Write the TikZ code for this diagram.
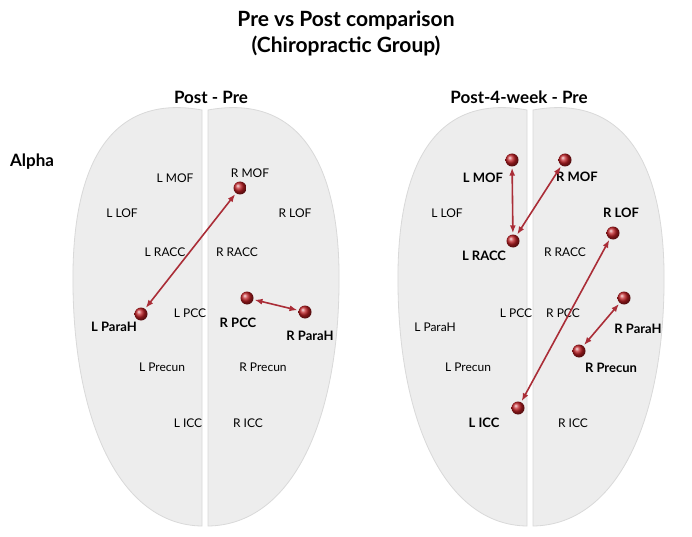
\documentclass[tikz,border=0pt]{standalone}
\usepackage{fontspec}
\setmainfont{Lato}
\usetikzlibrary{arrows.meta}
\definecolor{arr}{RGB}{170,45,55}
\definecolor{ball}{RGB}{190,30,35}
\tikzset{
 lab/.style={font=\fontsize{12}{13}\selectfont, inner sep=0},
 blab/.style={font=\fontsize{13}{14}\selectfont\bfseries, inner sep=0},
 ttl/.style={font=\fontsize{21}{23}\selectfont\bfseries, inner sep=0},
 sub/.style={font=\fontsize{17}{19}\selectfont\bfseries, inner sep=0},
 roi/.style={circle, minimum size=13pt, inner sep=0, shading=ball, ball color=ball},
 con/.style={{Latex[length=8pt,width=6pt]}-{Latex[length=8pt,width=6pt]}, arr, line width=1.6pt, shorten <=1pt, shorten >=1pt},
 hemi/.style={fill=gray!14, draw=gray!30, line width=0.8pt}
}
\begin{document}
\begin{tikzpicture}[x=1pt,y=-1pt]
\useasboundingbox (0,0) rectangle (692,537);
\fill[white] (0,0) rectangle (692,537);
% brains
\foreach \cx in {205, 530}{
 \path[hemi] (\cx-3,110) .. controls (\cx-85,95) and (\cx-130,150) .. (\cx-132,270)
   .. controls (\cx-134,420) and (\cx-85,525) .. (\cx-3,526) -- cycle;
 \path[hemi] (\cx+3,110) .. controls (\cx+85,95) and (\cx+132,150) .. (\cx+134,270)
   .. controls (\cx+136,420) and (\cx+87,525) .. (\cx+3,526) -- cycle;
}
% titles
\node[ttl] (t1) at (346,20) {Pre vs Post comparison};
\node[ttl] (t2) at (346,46) {(Chiropractic Group)};
\node[sub] (s1) at (211,97) {Post - Pre};
\node[sub] (s2) at (519,97) {Post-4-week - Pre};
\node[sub] (al) at (32,162) {Alpha};
% left labels
\node[lab] at (175,178) {L MOF};
\node[lab] at (250,173) {R MOF};
\node[lab] at (122,213) {L LOF};
\node[lab] at (295,213) {R LOF};
\node[lab] at (165,252) {L RACC};
\node[lab] at (237,252) {R RACC};
\node[lab] at (190,313) {L PCC};
\node[blab] at (238,323) {R PCC};
\node[blab] at (114,327) {L ParaH};
\node[blab] at (310,336) {R ParaH};
\node[lab] at (162,367) {L Precun};
\node[lab] at (263,367) {R Precun};
\node[lab] at (188,423) {L ICC};
\node[lab] at (248,423) {R ICC};
% right labels
\node[blab] at (483,178) {L MOF};
\node[blab] at (577,177) {R MOF};
\node[lab] at (447,213) {L LOF};
\node[blab] at (621,213) {R LOF};
\node[blab] at (484,256) {L RACC};
\node[lab] at (565,252) {R RACC};
\node[lab] at (435,327) {L ParaH};
\node[lab] at (516,313) {L PCC};
\node[lab] at (563,313) {R PCC};
\node[blab] at (638,329) {R ParaH};
\node[lab] at (468,367) {L Precun};
\node[blab] at (611,368) {R Precun};
\node[blab] at (484,423) {L ICC};
\node[lab] at (573,423) {R ICC};
% balls
\node[roi] (aRMOF) at (240,188) {};
\node[roi] (aLParaH) at (141,314) {};
\node[roi] (aRPCC) at (247,298) {};
\node[roi] (aRParaH) at (305,312) {};
\node[roi] (bLMOF) at (512,160) {};
\node[roi] (bRMOF) at (565,160) {};
\node[roi] (bLRACC) at (513,241) {};
\node[roi] (bRLOF) at (613,233) {};
\node[roi] (bRParaH) at (624,298) {};
\node[roi] (bRPrecun) at (579,351) {};
\node[roi] (bLICC) at (518,408) {};
% connectors
\draw[con] (aLParaH) -- (aRMOF);
\draw[con] (aRPCC) -- (aRParaH);
\draw[con] (bLMOF) -- (bLRACC);
\draw[con] (bLRACC) -- (bRMOF);
\draw[con] (bLICC) -- (bRLOF);
\draw[con] (bRPrecun) -- (bRParaH);
\end{tikzpicture}
\end{document}
